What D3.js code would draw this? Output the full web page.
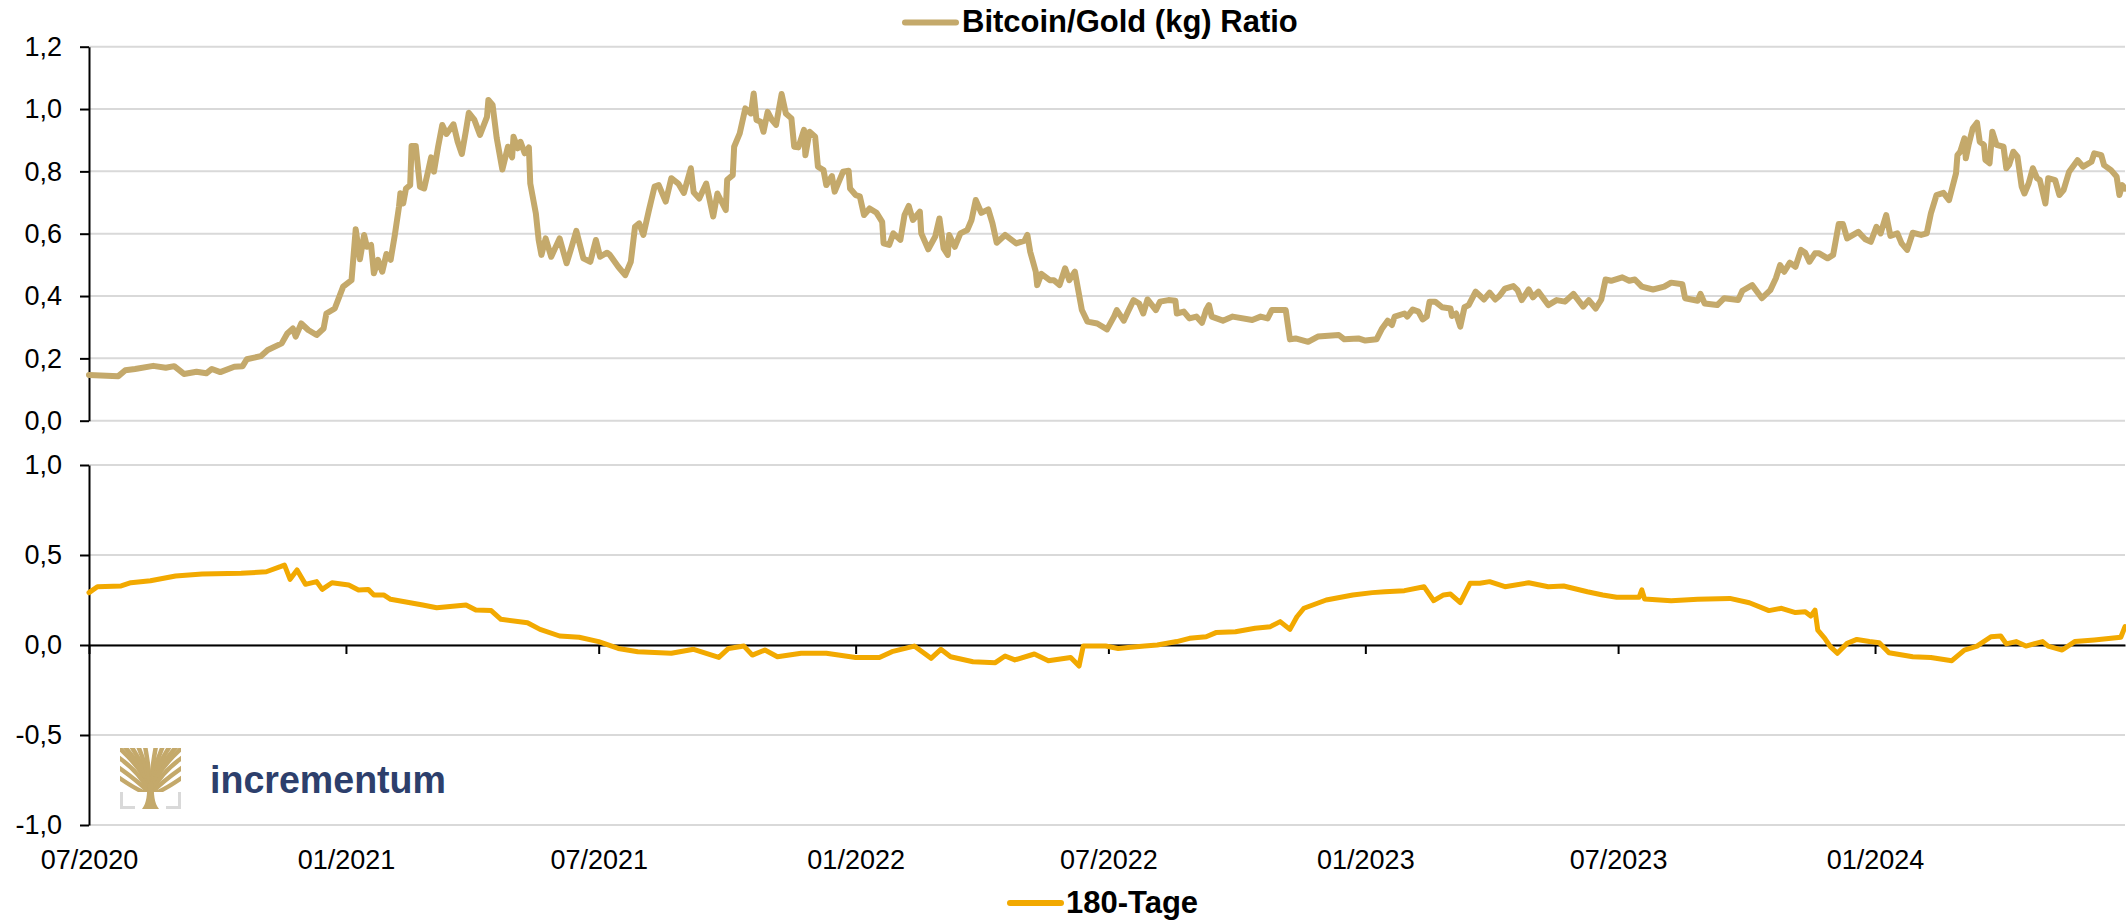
<!DOCTYPE html>
<html>
<head>
<meta charset="utf-8">
<script src="https://cdn.jsdelivr.net/npm/d3@7"></script>
<style>
body { margin: 0; background: #fff; }
svg { display: block; font-family: "Liberation Sans", Arial, sans-serif; }
</style>
</head>
<body>
<script>
// Bitcoin/Gold (kg) ratio
var ratioDates = [
"2020-07-01","2020-07-22","2020-07-27","2020-08-03","2020-08-16","2020-08-25","2020-08-31","2020-09-07","2020-09-16","2020-09-23",
"2020-09-27","2020-10-03","2020-10-13","2020-10-19","2020-10-22","2020-11-01","2020-11-06","2020-11-16","2020-11-20","2020-11-24",
"2020-11-26","2020-11-30","2020-12-05","2020-12-11","2020-12-16","2020-12-18","2020-12-24","2020-12-30","2021-01-05","2021-01-08",
"2021-01-11","2021-01-14","2021-01-16","2021-01-19","2021-01-21","2021-01-24","2021-01-27","2021-01-30","2021-02-02","2021-02-05",
"2021-02-08","2021-02-09","2021-02-11","2021-02-13","2021-02-16","2021-02-17","2021-02-20","2021-02-23","2021-02-26","2021-03-01",
"2021-03-03","2021-03-05","2021-03-08","2021-03-11","2021-03-14","2021-03-19","2021-03-22","2021-03-25","2021-03-28","2021-03-30",
"2021-04-03","2021-04-07","2021-04-12","2021-04-13","2021-04-16","2021-04-19","2021-04-23","2021-04-27","2021-04-30","2021-05-01",
"2021-05-04","2021-05-06","2021-05-09","2021-05-12","2021-05-13","2021-05-17","2021-05-19","2021-05-21","2021-05-24","2021-05-28",
"2021-06-03","2021-06-08","2021-06-11","2021-06-15","2021-06-20","2021-06-25","2021-06-29","2021-07-02","2021-07-07","2021-07-09",
"2021-07-15","2021-07-20","2021-07-24","2021-07-27","2021-07-30","2021-08-02","2021-08-06","2021-08-10","2021-08-13","2021-08-18",
"2021-08-22","2021-08-27","2021-08-31","2021-09-05","2021-09-07","2021-09-11","2021-09-16","2021-09-21","2021-09-24","2021-09-30",
"2021-10-01","2021-10-05","2021-10-06","2021-10-10","2021-10-14","2021-10-18","2021-10-20","2021-10-22","2021-10-25","2021-10-27",
"2021-10-30","2021-11-02","2021-11-05","2021-11-09","2021-11-12","2021-11-16","2021-11-18","2021-11-21","2021-11-25","2021-11-26",
"2021-11-29","2021-12-03","2021-12-05","2021-12-09","2021-12-11","2021-12-15","2021-12-17","2021-12-23","2021-12-27","2021-12-28",
"2022-01-01","2022-01-04","2022-01-07","2022-01-11","2022-01-16","2022-01-20","2022-01-21","2022-01-25","2022-01-28","2022-02-02",
"2022-02-05","2022-02-08","2022-02-11","2022-02-16","2022-02-17","2022-02-22","2022-02-27","2022-03-02","2022-03-05","2022-03-08",
"2022-03-09","2022-03-13","2022-03-17","2022-03-22","2022-03-25","2022-03-28","2022-04-01","2022-04-06","2022-04-09","2022-04-12",
"2022-04-18","2022-04-26","2022-05-02","2022-05-04","2022-05-06","2022-05-10","2022-05-11","2022-05-14","2022-05-20","2022-05-23",
"2022-05-27","2022-05-31","2022-06-03","2022-06-07","2022-06-12","2022-06-16","2022-06-23","2022-06-30","2022-07-05","2022-07-07",
"2022-07-12","2022-07-15","2022-07-19","2022-07-23","2022-07-26","2022-07-29","2022-08-04","2022-08-07","2022-08-13","2022-08-18",
"2022-08-19","2022-08-24","2022-08-28","2022-09-02","2022-09-06","2022-09-09","2022-09-11","2022-09-13","2022-09-21","2022-09-28",
"2022-10-12","2022-10-18","2022-10-23","2022-10-26","2022-11-05","2022-11-08","2022-11-12","2022-11-21","2022-11-28","2022-12-13",
"2022-12-17","2022-12-27","2023-01-01","2023-01-09","2023-01-13","2023-01-17","2023-01-20","2023-01-22","2023-01-29","2023-01-31",
"2023-02-04","2023-02-08","2023-02-11","2023-02-14","2023-02-16","2023-02-20","2023-02-25","2023-03-03","2023-03-04","2023-03-07",
"2023-03-10","2023-03-13","2023-03-16","2023-03-21","2023-03-27","2023-03-31","2023-04-04","2023-04-07","2023-04-11","2023-04-17",
"2023-04-20","2023-04-23","2023-04-28","2023-05-01","2023-05-05","2023-05-12","2023-05-18","2023-05-24","2023-05-30","2023-06-06",
"2023-06-10","2023-06-15","2023-06-19","2023-06-22","2023-06-26","2023-07-04","2023-07-09","2023-07-13","2023-07-18","2023-07-26",
"2023-08-03","2023-08-08","2023-08-16","2023-08-18","2023-08-27","2023-08-29","2023-09-01","2023-09-10","2023-09-15","2023-09-25",
"2023-09-28","2023-10-05","2023-10-12","2023-10-18","2023-10-22","2023-10-25","2023-10-28","2023-11-01","2023-11-05","2023-11-09",
"2023-11-12","2023-11-15","2023-11-19","2023-11-22","2023-11-28","2023-12-02","2023-12-06","2023-12-09","2023-12-12","2023-12-20",
"2023-12-25","2023-12-29","2024-01-02","2024-01-05","2024-01-09","2024-01-12","2024-01-17","2024-01-20","2024-01-24","2024-01-28",
"2024-02-03","2024-02-07","2024-02-10","2024-02-14","2024-02-19","2024-02-23","2024-02-28","2024-02-29","2024-03-02","2024-03-05",
"2024-03-06","2024-03-08","2024-03-11","2024-03-14","2024-03-16","2024-03-19","2024-03-20","2024-03-23","2024-03-25","2024-03-28",
"2024-04-02","2024-04-04","2024-04-06","2024-04-09","2024-04-12","2024-04-15","2024-04-17","2024-04-20","2024-04-23","2024-04-26",
"2024-04-28","2024-05-02","2024-05-04","2024-05-09","2024-05-12","2024-05-15","2024-05-19","2024-05-25","2024-05-29","2024-06-04",
"2024-06-06","2024-06-11","2024-06-13","2024-06-18","2024-06-22","2024-06-24","2024-06-26","2024-06-28"
];
var ratioValues = [
0.147,0.143,0.162,0.166,0.176,0.170,0.175,0.150,0.157,0.152,
0.166,0.156,0.173,0.175,0.197,0.207,0.227,0.248,0.280,0.296,
0.270,0.312,0.291,0.275,0.296,0.344,0.360,0.430,0.451,0.614,
0.518,0.596,0.558,0.564,0.473,0.516,0.478,0.535,0.516,0.596,
0.687,0.730,0.697,0.745,0.756,0.881,0.881,0.751,0.745,0.804,
0.845,0.799,0.879,0.949,0.920,0.951,0.895,0.856,0.933,0.988,
0.965,0.917,0.975,1.029,1.013,0.906,0.806,0.879,0.845,0.911,
0.874,0.895,0.858,0.877,0.761,0.665,0.580,0.532,0.585,0.526,
0.585,0.505,0.548,0.609,0.521,0.510,0.580,0.526,0.539,0.532,
0.494,0.467,0.510,0.622,0.633,0.596,0.676,0.751,0.756,0.703,
0.778,0.761,0.731,0.810,0.733,0.713,0.761,0.655,0.729,0.676,
0.773,0.788,0.879,0.922,1.002,0.986,1.050,0.965,0.959,0.927,
0.991,0.965,0.949,1.048,0.986,0.970,0.879,0.877,0.933,0.852,
0.927,0.911,0.815,0.804,0.756,0.785,0.735,0.799,0.802,0.745,
0.724,0.720,0.660,0.681,0.667,0.638,0.569,0.564,0.601,0.580,
0.660,0.689,0.644,0.671,0.601,0.550,0.591,0.649,0.553,0.532,
0.596,0.558,0.601,0.612,0.644,0.708,0.667,0.678,0.633,0.571,
0.596,0.569,0.578,0.596,0.542,0.478,0.435,0.471,0.451,0.451,
0.435,0.489,0.451,0.478,0.355,0.318,0.312,0.293,0.334,0.355,
0.321,0.350,0.387,0.376,0.344,0.389,0.355,0.382,0.387,0.385,
0.344,0.350,0.328,0.334,0.314,0.355,0.371,0.334,0.321,0.334,
0.323,0.334,0.328,0.355,0.355,0.261,0.264,0.253,0.270,0.275,
0.261,0.264,0.257,0.261,0.296,0.321,0.307,0.334,0.344,0.334,
0.357,0.350,0.325,0.334,0.382,0.382,0.364,0.360,0.336,0.344,
0.302,0.364,0.371,0.414,0.389,0.411,0.389,0.400,0.424,0.432,
0.419,0.387,0.421,0.396,0.414,0.371,0.387,0.382,0.407,0.366,
0.387,0.360,0.389,0.453,0.449,0.460,0.449,0.453,0.430,0.421,
0.430,0.443,0.438,0.393,0.385,0.407,0.376,0.371,0.393,0.387,
0.417,0.435,0.393,0.419,0.457,0.499,0.478,0.507,0.494,0.548,
0.539,0.510,0.537,0.537,0.521,0.532,0.631,0.631,0.585,0.606,
0.582,0.574,0.622,0.601,0.660,0.593,0.601,0.569,0.548,0.603,
0.596,0.601,0.665,0.724,0.731,0.708,0.794,0.852,0.863,0.906,
0.842,0.885,0.938,0.956,0.895,0.885,0.837,0.826,0.927,0.885,
0.879,0.810,0.821,0.863,0.847,0.751,0.729,0.761,0.810,0.778,
0.772,0.697,0.778,0.772,0.724,0.740,0.799,0.836,0.815,0.831,
0.858,0.852,0.820,0.804,0.783,0.724,0.756,0.745
];

// 180-day series (lower panel)
var corrDates = [
"2020-07-01","2020-07-07","2020-07-24","2020-07-31","2020-08-14","2020-09-01","2020-09-20","2020-10-18","2020-11-05","2020-11-15",
"2020-11-18","2020-11-22","2020-11-27","2020-12-03","2020-12-11","2020-12-15","2020-12-22","2021-01-03","2021-01-10","2021-01-17",
"2021-01-21","2021-01-28","2021-02-02","2021-02-16","2021-02-25","2021-03-07","2021-03-28","2021-04-04","2021-04-15","2021-04-22",
"2021-05-11","2021-05-20","2021-06-03","2021-06-17","2021-07-01","2021-07-15","2021-07-29","2021-08-22","2021-09-07","2021-09-25",
"2021-10-02","2021-10-13","2021-10-19","2021-10-28","2021-11-06","2021-11-23","2021-12-11","2022-01-01","2022-01-18","2022-01-27",
"2022-02-12","2022-02-24","2022-03-03","2022-03-10","2022-03-26","2022-04-11","2022-04-18","2022-04-25","2022-05-09","2022-05-19",
"2022-06-04","2022-06-10","2022-06-13","2022-06-29","2022-07-08","2022-07-17","2022-07-27","2022-08-05","2022-08-19","2022-08-28",
"2022-09-09","2022-09-16","2022-09-30","2022-10-14","2022-10-25","2022-11-01","2022-11-08","2022-11-13","2022-11-18","2022-12-04",
"2022-12-23","2023-01-06","2023-01-15","2023-01-29","2023-02-12","2023-02-19","2023-02-26","2023-03-03","2023-03-10","2023-03-17",
"2023-03-24","2023-03-31","2023-04-11","2023-04-28","2023-05-12","2023-05-23","2023-06-09","2023-06-20","2023-06-30","2023-07-16",
"2023-07-18","2023-07-20","2023-08-08","2023-08-27","2023-09-19","2023-10-03","2023-10-17","2023-10-26","2023-11-05","2023-11-12",
"2023-11-16","2023-11-19","2023-11-21","2023-11-26","2023-11-30","2023-12-05","2023-12-12","2023-12-19","2023-12-28","2024-01-04",
"2024-01-11","2024-01-28","2024-02-10","2024-02-25","2024-03-05","2024-03-14","2024-03-24","2024-03-31","2024-04-04","2024-04-11",
"2024-04-18","2024-04-30","2024-05-04","2024-05-14","2024-05-23","2024-06-06","2024-06-18","2024-06-25","2024-06-28"
];
var corrValues = [
0.291,0.324,0.328,0.346,0.357,0.383,0.394,0.398,0.407,0.435,
0.444,0.365,0.417,0.337,0.352,0.309,0.346,0.333,0.306,0.309,
0.278,0.278,0.254,0.235,0.222,0.207,0.222,0.194,0.191,0.143,
0.124,0.087,0.050,0.043,0.019,-0.019,-0.037,-0.046,-0.024,-0.069,
-0.019,-0.006,-0.056,-0.028,-0.065,-0.046,-0.046,-0.069,-0.069,-0.037,
-0.006,-0.074,-0.024,-0.065,-0.093,-0.098,-0.061,-0.083,-0.050,-0.087,
-0.069,-0.117,-0.006,-0.006,-0.019,-0.013,-0.006,0.000,0.019,0.037,
0.046,0.069,0.074,0.093,0.102,0.130,0.087,0.157,0.204,0.250,
0.278,0.291,0.296,0.302,0.324,0.246,0.278,0.283,0.235,0.343,
0.343,0.352,0.324,0.346,0.324,0.328,0.296,0.278,0.265,0.265,
0.306,0.255,0.246,0.254,0.259,0.235,0.191,0.204,0.180,0.185,
0.161,0.194,0.083,0.037,-0.009,-0.046,0.009,0.031,0.019,0.013,
-0.043,-0.065,-0.069,-0.087,-0.028,-0.006,0.046,0.050,0.006,0.019,
-0.006,0.019,-0.006,-0.028,0.019,0.028,0.037,0.043,0.102
];

var ratioTicks = [0, 0.2, 0.4, 0.6, 0.8, 1.0, 1.2];
var corrTicks = [-1, -0.5, 0, 0.5, 1];
var xTickLabels = ["07/2020", "01/2021", "07/2021", "01/2022", "07/2022", "01/2023", "07/2023", "01/2024"];
var ratioName = "Bitcoin/Gold (kg) Ratio";
var corrName = "180-Tage";

var gold = "#c4a96b";
var orange = "#f2a900";
var grid = "#d9d9d9";

var width = 2126, height = 920;
var left = 89, right = 2125;

var parseDay = d3.utcParse("%Y-%m-%d");
var parseTick = d3.utcParse("%m/%Y");
var fmt = d3.formatLocale({decimal: ",", thousands: ".", grouping: [3], currency: ["", ""], minus: "-"}).format(".1f");

var svg = d3.select("body").append("svg").attr("width", width).attr("height", height);

var x = d3.scaleUtc().domain([parseDay("2020-07-01"), parseDay("2024-06-28")]).range([left, right]);
var yTop = d3.scaleLinear().domain([0, 1.2]).range([420.7, 46.7]);
var yBot = d3.scaleLinear().domain([-1, 1]).range([825, 465]);

function gridlines(scale, ticks) {
    svg.append("g").selectAll("line")
        .data(ticks)
        .enter()
        .append("line")
        .attr("x1", left).attr("x2", right)
        .attr("y1", function(d) { return scale(d); })
        .attr("y2", function(d) { return scale(d); })
        .attr("stroke", grid)
        .attr("stroke-width", 2);
}

function styleAxis(g) {
    g.attr("font-size", null).attr("font-family", null);
    g.select(".domain").attr("stroke", "#000").attr("stroke-width", 2);
    g.selectAll(".tick line").attr("stroke", "#000").attr("stroke-width", 2);
    g.selectAll(".tick text").attr("fill", "#000").style("font-size", "27px");
}

gridlines(yTop, ratioTicks);
gridlines(yBot, corrTicks);

// upper panel axis
svg.append("g")
    .attr("transform", "translate(" + left + ",0)")
    .call(d3.axisLeft(yTop).tickValues(ratioTicks).tickFormat(fmt).tickSize(9).tickSizeOuter(0).tickPadding(18))
    .call(styleAxis);

// lower panel axes
svg.append("g")
    .attr("transform", "translate(" + left + ",0)")
    .call(d3.axisLeft(yBot).tickValues(corrTicks).tickFormat(fmt).tickSize(9).tickSizeOuter(0).tickPadding(18))
    .call(styleAxis);

svg.append("g")
    .attr("transform", "translate(0," + yBot(0) + ")")
    .call(d3.axisBottom(x)
        .tickValues(xTickLabels.map(parseTick))
        .tickFormat(d3.utcFormat("%m/%Y"))
        .tickSize(9).tickSizeOuter(0).tickPadding(196))
    .call(styleAxis);

// series
var ratioData = ratioDates.map(function(d, i) { return {date: parseDay(d), value: ratioValues[i]}; });
var corrData = corrDates.map(function(d, i) { return {date: parseDay(d), value: corrValues[i]}; });

var lineTop = d3.line().x(function(d) { return x(d.date); }).y(function(d) { return yTop(d.value); });
var lineBot = d3.line().x(function(d) { return x(d.date); }).y(function(d) { return yBot(d.value); });

svg.append("path").datum(ratioData)
    .attr("d", lineTop)
    .attr("fill", "none").attr("stroke", gold).attr("stroke-width", 6)
    .attr("stroke-linejoin", "round").attr("stroke-linecap", "round");

svg.append("path").datum(corrData)
    .attr("d", lineBot)
    .attr("fill", "none").attr("stroke", orange).attr("stroke-width", 5)
    .attr("stroke-linejoin", "round").attr("stroke-linecap", "round");

// legends
function legend(name, color, sx, sy, tx, ty) {
    var g = svg.append("g");
    g.append("line")
        .attr("x1", sx).attr("x2", sx + 51).attr("y1", sy).attr("y2", sy)
        .attr("stroke", color).attr("stroke-width", 6).attr("stroke-linecap", "round");
    g.append("text")
        .attr("x", tx).attr("y", ty)
        .attr("font-size", 31).attr("font-weight", "bold").attr("fill", "#000")
        .text(name);
}
legend(ratioName, gold, 905, 22.5, 962, 32);
legend(corrName, orange, 1010, 903, 1066, 913);

// logo
var logo = svg.append("g").attr("transform", "translate(120,748)");
logo.append("clipPath").attr("id", "logoclip")
    .append("rect").attr("x", 0).attr("y", 0).attr("width", 61).attr("height", 44);
var crown = logo.append("g").attr("clip-path", "url(#logoclip)");
var tips = [[-3, -2], [4, -2], [11, -2], [18, -2], [25, -2], [36, -2], [43, -2], [50, -2], [57, -2], [64, -2],
            [-2, 9], [-2, 19], [-2, 29], [63, 9], [63, 19], [63, 29]];
tips.forEach(function(t) {
    var cx = 30.5 + (t[0] - 30.5) * (t[1] < 0 ? 0.12 : 0.3);
    var cy = t[1] < 0 ? 24 : t[1] + 16;
    crown.append("path")
        .attr("d", "M30.5,46 Q" + cx + "," + cy + " " + t[0] + "," + t[1])
        .attr("fill", "none").attr("stroke", gold).attr("stroke-width", 4.5);
});
logo.append("path")
    .attr("d", "M22,61 C27,55 27,46 27.5,36 L33.5,36 C34,46 34,55 39,61 Z")
    .attr("fill", gold);
logo.append("path").attr("d", "M1.5,44 V59.5 H15")
    .attr("fill", "none").attr("stroke", grid).attr("stroke-width", 3);
logo.append("path").attr("d", "M46,59.5 H59.5 V44")
    .attr("fill", "none").attr("stroke", grid).attr("stroke-width", 3);
svg.append("text")
    .attr("x", 210).attr("y", 793)
    .attr("font-size", 38).attr("font-weight", "bold").attr("fill", "#2d3f6c")
    .attr("textLength", 236).attr("lengthAdjust", "spacingAndGlyphs")
    .text("incrementum");
</script>
</body>
</html>
